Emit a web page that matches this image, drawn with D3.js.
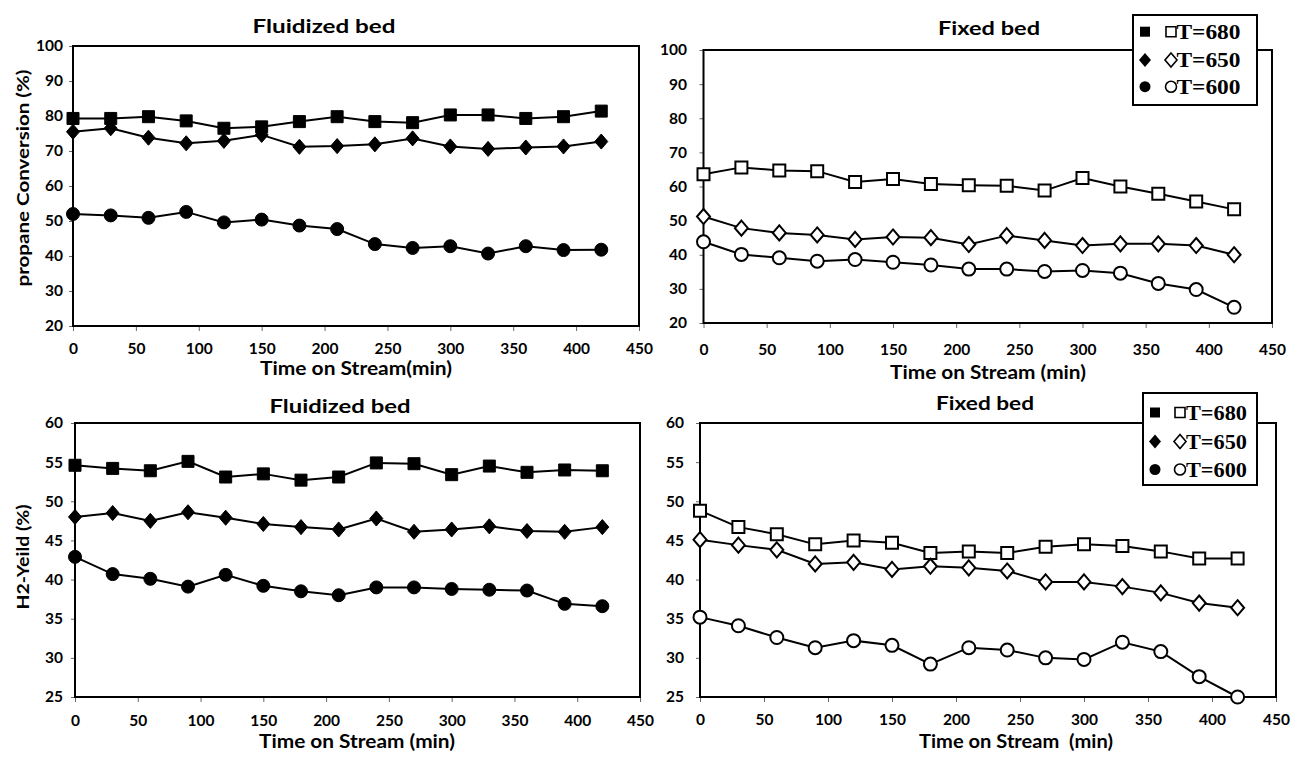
<!DOCTYPE html>
<html><head><meta charset="utf-8">
<script src="https://cdn.jsdelivr.net/npm/d3@7"></script>
<style>body{margin:0;background:#fff}svg{display:block}</style>
</head><body>
<svg id="c" width="1293" height="758"></svg>
<script>
// ---------- data ----------
const times = [0,30,60,90,120,150,180,210,240,270,300,330,360,390,420];
const xTicks = [0,50,100,150,200,250,300,350,400,450];
const convTicks = [20,30,40,50,60,70,80,90,100];
const yieldTicks = [25,30,35,40,45,50,55,60];
const legendLabels = ["T=680","T=650","T=600"];
const panelTitles = ["Fluidized bed","Fixed bed","Fluidized bed","Fixed bed"];
const xLabels = ["Time on Stream(min)","Time on Stream (min)","Time on Stream (min)","Time on Stream  (min)"];
const yLabels = ["propane Conversion (%)","","H2-Yeild (%)",""];

const fluidConv680 = [79.3,79.3,79.8,78.6,76.5,76.9,78.4,79.8,78.4,78.1,80.3,80.3,79.3,79.8,81.4];
const fluidConv650 = [75.5,76.5,73.8,72.2,72.9,74.6,71.2,71.4,71.9,73.6,71.3,70.6,71.0,71.3,72.7];
const fluidConv600 = [52.0,51.6,50.9,52.6,49.6,50.4,48.7,47.7,43.4,42.3,42.8,40.7,42.8,41.7,41.8];

const fixedConv680 = [63.6,65.6,64.7,64.5,61.3,62.2,60.7,60.4,60.2,58.8,62.5,60.0,57.9,55.6,53.3];
const fixedConv650 = [51.2,47.8,46.4,45.8,44.5,45.2,45.0,43.0,45.6,44.2,42.7,43.2,43.2,42.7,40.0];
const fixedConv600 = [43.8,40.1,39.1,38.1,38.6,37.8,37.0,35.8,35.8,35.1,35.4,34.6,31.6,29.8,24.6];

const fluidYield680 = [54.6,54.2,53.9,55.1,53.1,53.5,52.7,53.1,54.9,54.8,53.4,54.5,53.7,54.0,53.9];
const fluidYield650 = [48.0,48.5,47.5,48.6,47.9,47.1,46.7,46.4,47.8,46.1,46.4,46.8,46.2,46.1,46.7];
const fluidYield600 = [42.9,40.7,40.1,39.1,40.6,39.2,38.5,38.0,39.0,39.0,38.8,38.7,38.6,36.9,36.6];

const fixedYield680 = [48.8,46.7,45.8,44.5,45.0,44.7,43.4,43.6,43.4,44.2,44.5,44.3,43.6,42.7,42.7];
const fixedYield650 = [45.1,44.4,43.8,42.0,42.2,41.3,41.7,41.5,41.1,39.7,39.7,39.1,38.3,37.0,36.4];
const fixedYield600 = [35.2,34.1,32.6,31.3,32.2,31.6,29.2,31.3,31.0,30.0,29.8,32.0,30.8,27.6,25.0];

// ---------- layout ----------
const panels = [
  {series:[fluidConv680,fluidConv650,fluidConv600], open:false, L:73, R:639, T:46, B:326, dom:[20,100], ticks:convTicks,
   titleX:324, titleY:33, titleW:143, xlX:356, xlY:375, xlW:192, ylX:29, ylY:178, ylW:217, yGap:10, xTickY:354, legend:null},
  {series:[fixedConv680,fixedConv650,fixedConv600], open:true, L:703.5, R:1272, T:50, B:323, dom:[20,100], ticks:convTicks,
   titleX:989, titleY:35, titleW:102, xlX:988, xlY:379, xlW:196, yGap:16.5, xTickY:355,
   legend:{x:1133, y:15, w:124, h:90, rows:[31.7,60,86.7], fx:1145, ox:1171, tx:1176.5, tw:64}},
  {series:[fluidYield680,fluidYield650,fluidYield600], open:false, L:75, R:640, T:423, B:697, dom:[25,60], ticks:yieldTicks,
   titleX:340, titleY:413, titleW:141, xlX:357, xlY:748, xlW:196, ylX:29, ylY:557, ylW:105, yGap:12, xTickY:726, legend:null},
  {series:[fixedYield680,fixedYield650,fixedYield600], open:true, L:700, R:1276, T:423, B:697, dom:[25,60], ticks:yieldTicks,
   titleX:985, titleY:410, titleW:98, xlX:1016, xlY:748, xlW:194, yGap:16, xTickY:725,
   legend:{x:1143, y:393, w:114, h:92, rows:[412.5,441.5,469.5], fx:1155, ox:1180, tx:1186, tw:61}}
];

const svg = d3.select("#c");
const FONT = "Lato, 'Open Sans', sans-serif";
const SERIF = "'Liberation Serif', 'Times New Roman', serif";

function markerPath(kind, s){
  if(kind===0){ return `M${-s/2},${-s/2}H${s/2}V${s/2}H${-s/2}Z`; }
  if(kind===1){ const w=s*0.5, h=s*0.58; return `M0,${-h}L${w},0L0,${h}L${-w},0Z`; }
  const r=s/2; return `M${r},0A${r},${r} 0 1,1 ${-r},0A${r},${r} 0 1,1 ${r},0Z`;
}
const markerSize = [12, 13, 13];

panels.forEach((p,i)=>{
  const g = svg.append("g");
  const x = d3.scaleLinear().domain([0,450]).range([p.L,p.R]);
  const y = d3.scaleLinear().domain(p.dom).range([p.B,p.T]);

  // y axis
  const ya = g.append("g").attr("transform",`translate(${p.L},0)`)
    .call(d3.axisLeft(y).tickValues(p.ticks).tickSize(4).tickPadding(p.yGap-4));
  ya.select(".domain").remove();
  ya.selectAll(".tick line").attr("stroke","#666").attr("stroke-width",1);
  ya.selectAll(".tick text").attr("font-family",FONT).attr("font-weight",700).attr("font-size",15.5).attr("fill","#000");

  // x axis
  const xa = g.append("g").attr("transform",`translate(0,${p.B})`)
    .call(d3.axisBottom(x).tickValues(xTicks).tickSize(5));
  xa.select(".domain").remove();
  xa.selectAll(".tick line").attr("stroke","#666").attr("stroke-width",1);
  xa.selectAll(".tick text").attr("font-family",FONT).attr("font-weight",700).attr("font-size",15.5).attr("fill","#000")
    .attr("y", p.xTickY - p.B).attr("dy", null);

  // frame
  g.append("rect").attr("x",p.L).attr("y",p.T).attr("width",p.R-p.L).attr("height",p.B-p.T)
    .attr("fill","none").attr("stroke","#000").attr("stroke-width",2);

  // series
  const line = d3.line().x((d,j)=>x(times[j])).y(d=>y(d));
  p.series.forEach((vals,k)=>{
    g.append("path").datum(vals).attr("d",line).attr("fill","none").attr("stroke","#000").attr("stroke-width",2);
    g.selectAll(null).data(vals).enter().append("path")
      .attr("transform",(d,j)=>`translate(${x(times[j])},${y(d)})`)
      .attr("d",markerPath(k, markerSize[k]))
      .attr("fill", p.open ? "#fff" : "#000")
      .attr("stroke","#000").attr("stroke-width", p.open ? 2 : 1);
  });

  // title
  g.append("text").attr("x",p.titleX).attr("y",p.titleY).attr("text-anchor","middle")
    .attr("font-family",FONT).attr("font-weight",700).attr("font-size",19.5)
    .attr("textLength",p.titleW).attr("lengthAdjust","spacingAndGlyphs").text(panelTitles[i]);
  // x label
  g.append("text").attr("x",p.xlX).attr("y",p.xlY).attr("text-anchor","middle")
    .attr("font-family",FONT).attr("font-weight",700).attr("font-size",18)
    .attr("textLength",p.xlW).attr("lengthAdjust","spacingAndGlyphs").attr("xml:space","preserve")
    .style("white-space","pre").text(xLabels[i]);
  // y label
  if(yLabels[i]){
    g.append("text").attr("transform",`translate(${p.ylX},${p.ylY}) rotate(-90)`).attr("text-anchor","middle")
      .attr("font-family",FONT).attr("font-weight",700).attr("font-size",17)
      .attr("textLength",p.ylW).attr("lengthAdjust","spacingAndGlyphs").text(yLabels[i]);
  }

  // legend
  if(p.legend){
    const lg = p.legend;
    g.append("rect").attr("x",lg.x).attr("y",lg.y).attr("width",lg.w).attr("height",lg.h)
      .attr("fill","#fff").attr("stroke","#000").attr("stroke-width",2);
    legendLabels.forEach((lab,k)=>{
      const cy = lg.rows[k];
      const s = [10,12,11][k];
      g.append("path").attr("transform",`translate(${lg.fx},${cy})`).attr("d",markerPath(k,s)).attr("fill","#000");
      g.append("path").attr("transform",`translate(${lg.ox},${cy})`).attr("d",markerPath(k,s))
        .attr("fill","#fff").attr("stroke","#000").attr("stroke-width",1.6);
      g.append("text").attr("x",lg.tx).attr("y",cy+7).attr("font-family",SERIF).attr("font-weight",700)
        .attr("font-size",20).attr("textLength",lg.tw).attr("lengthAdjust","spacingAndGlyphs").text(lab);
    });
  }
});
</script>
</body></html>
